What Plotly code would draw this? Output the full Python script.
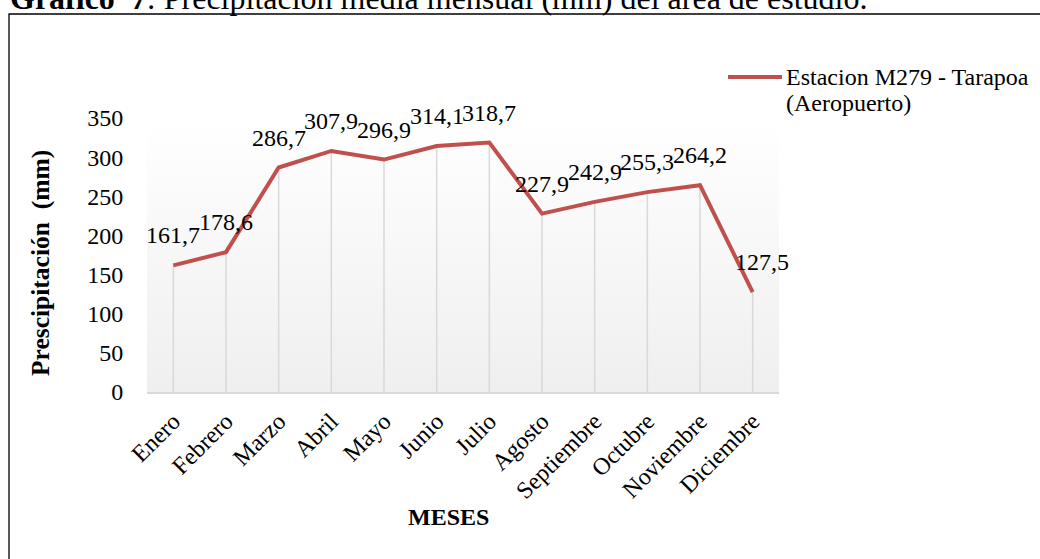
import plotly.graph_objects as go

# Monthly mean precipitation (mm), station M279 - Tarapoa
meses = ["Enero", "Febrero", "Marzo", "Abril", "Mayo", "Junio", "Julio",
         "Agosto", "Septiembre", "Octubre", "Noviembre", "Diciembre"]
precipitacion = [161.7, 178.6, 286.7, 307.9, 296.9, 314.1, 318.7,
                 227.9, 242.9, 255.3, 264.2, 127.5]
y_ticks = [0, 50, 100, 150, 200, 250, 300, 350]
serie = ["Estacion M279 - Tarapoa", "(Aeropuerto)"]

W, H = 1040, 559
L, R, T, B = 147, 779, 118, 392  # plot area in pixels
FONT = "Liberation Serif, Times New Roman, serif"
RED = "#C0504D"
FS = 24


def px(x):
    return (x - L) / (R - L)


def py(y):
    return (B - y) / (B - T)


idx = list(range(len(meses)))
etiquetas = [f"{v:.1f}".replace(".", ",") for v in precipitacion]

fig = go.Figure()

# Plot-area background: light gray at the bottom fading to white at the top
fig.add_trace(go.Scatter(
    x=[-0.5, 11.5, 11.5, -0.5, -0.5], y=[0, 0, 350, 350, 0],
    mode="lines", line=dict(width=0), fill="toself",
    fillgradient=dict(type="vertical",
                      colorscale=[[0, "#efefef"], [1, "#ffffff"]]),
    hoverinfo="skip", showlegend=False,
))

# Drop lines from each point to the category axis
dx, dy = [], []
for i, v in zip(idx, precipitacion):
    dx += [i, i, None]
    dy += [0, v, None]
fig.add_trace(go.Scatter(
    x=dx, y=dy, mode="lines", line=dict(color="#d9d9d9", width=1.5),
    hoverinfo="skip", showlegend=False,
))

fig.add_trace(go.Scatter(
    x=idx, y=precipitacion, mode="lines", name=" ".join(serie),
    line=dict(color=RED, width=4), showlegend=False,
))

annotations = []
for i, v, t in zip(idx, precipitacion, etiquetas):
    annotations.append(dict(
        x=i, y=v, xref="x", yref="y", text=t, showarrow=False,
        yshift=30, xshift=9 if i == 11 else 0,
        font=dict(family=FONT, size=FS, color="black"),
    ))

# Axis titles
annotations.append(dict(
    x=px(448), y=py(517), xref="paper", yref="paper", xanchor="center",
    yanchor="middle", text="<b>MESES</b>",
    showarrow=False, font=dict(family=FONT, size=FS, color="black"),
))
annotations.append(dict(
    x=px(40), y=py(263), xref="paper", yref="paper", xanchor="center",
    yanchor="middle", text="<b>Prescipitación&nbsp; (mm)</b>", textangle=-90,
    showarrow=False, font=dict(family=FONT, size=25.5, color="black"),
))

# Legend entry (two text lines beside the line sample)
for k, (linea, ycen) in enumerate(zip(serie, [77, 103])):
    annotations.append(dict(
        x=px(784), y=py(ycen), xref="paper", yref="paper", xanchor="left",
        yanchor="middle", align="left", text=linea, showarrow=False,
        font=dict(family=FONT, size=FS, color="black"),
    ))

# Caption above the frame
annotations.append(dict(
    x=px(8), y=py(-2), xref="paper", yref="paper", xanchor="left",
    yanchor="middle", align="left",
    text="<b>Gráfico  7</b>: Precipitación media mensual (mm) del área de estudio.",
    showarrow=False, font=dict(family=FONT, size=32, color="black"),
))

shapes = [
    dict(type="rect", xref="paper", yref="paper",
         x0=px(9), x1=px(1060), y0=py(14), y1=py(580),
         line=dict(color="black", width=1.3), fillcolor="rgba(0,0,0,0)"),
    dict(type="line", xref="paper", yref="paper",
         x0=px(728), x1=px(782), y0=py(77), y1=py(77),
         line=dict(color=RED, width=4)),
]

fig.update_layout(
    width=W, height=H,
    margin=dict(l=L, r=W - R, t=T, b=H - B),
    paper_bgcolor="white", plot_bgcolor="rgba(0,0,0,0)",
    font=dict(family=FONT, size=FS, color="black"),
    showlegend=False,
    annotations=annotations, shapes=shapes,
)

fig.update_xaxes(
    range=[-0.5, 11.5], tickvals=idx, ticktext=meses, tickangle=-45,
    showgrid=False, zeroline=False, showline=True, linecolor="#d9d9d9",
    linewidth=1.5, ticks="", ticklabelstandoff=4,
    tickfont=dict(family=FONT, size=FS),
)
fig.update_yaxes(
    range=[0, 350], tickvals=y_ticks, showgrid=False, zeroline=False,
    showline=False, ticks="outside", ticklen=18, tickcolor="rgba(0,0,0,0)",
    tickfont=dict(family=FONT, size=FS),
)

fig.write_html("out.html")
